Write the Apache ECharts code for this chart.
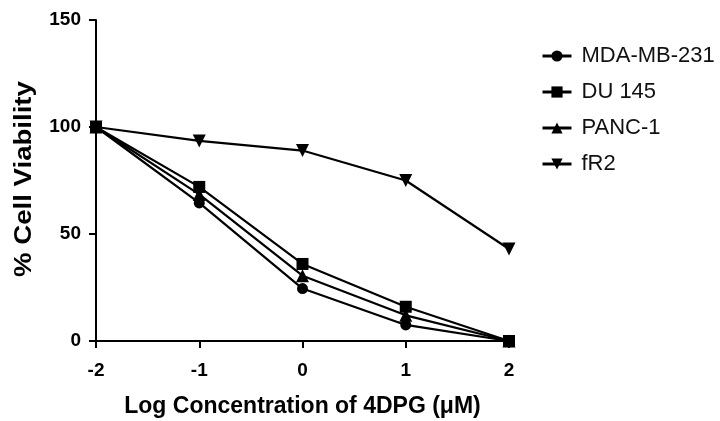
<!DOCTYPE html>
<html>
<head>
<meta charset="utf-8">
<script src="https://cdn.jsdelivr.net/npm/echarts@6/dist/echarts.min.js"></script>
<style>html,body{margin:0;padding:0;background:#fff}#c{width:720px;height:421px}</style>
</head>
<body>
<div id="c"></div>
<script>
var logConc = [-2, -1, 0, 1, 2];
var mda = [100, 64.5, 24.5, 7.5, 0];
var du145 = [100, 72, 36, 16, 0];
var panc1 = [100, 68.5, 30.5, 12, 0];
var fr2 = [100, 93.5, 89, 75, 43];
var seriesNames = ['MDA-MB-231', 'DU 145', 'PANC-1', 'fR2'];
var xTitle = 'Log Concentration of 4DPG (\u03bcM)';
var yTitle = '% Cell Viability';

function pairs(ys){ return logConc.map(function(x,i){ return [x, ys[i]]; }); }

var chart = echarts.init(document.getElementById('c'), null, {renderer:'canvas'});
var base = {
  type: 'line',
  clip: false,
  lineStyle: {color: '#000', width: 2.2},
  itemStyle: {color: '#000'},
  symbolSize: 10,
  animation: false
};
function mk(name, ys, sym, extra){
  return Object.assign({}, base, {name: name, data: pairs(ys), symbol: sym}, extra || {});
}
chart.setOption({
  animation: false,
  textStyle: {fontFamily: 'Liberation Sans, Arial, sans-serif'},
  grid: {left: 96, right: 211, top: 20, bottom: 80, containLabel: false, outerBoundsMode: 'none'},
  legend: {
    orient: 'vertical',
    left: 536,
    top: 40,
    itemWidth: 29,
    itemHeight: 14,
    itemGap: 14,
    data: seriesNames,
    lineStyle: {width: 3},
    textStyle: {fontSize: 22, color: '#111', fontFamily: 'Liberation Sans, Arial, sans-serif', lineHeight: 22, padding: [0,0,0,5]}
  },
  xAxis: {
    type: 'value', min: -2, max: 2, interval: 1,
    axisLine: {show: true, onZero: false, lineStyle: {color: '#000', width: 2}},
    axisTick: {show: true, length: 7, lineStyle: {color: '#000', width: 2}},
    axisLabel: {color: '#000', fontSize: 19, fontWeight: 'bold', margin: 20},
    splitLine: {show: false},
    name: xTitle, nameLocation: 'middle', nameGap: 54,
    nameTextStyle: {color: '#000', fontSize: 23, fontWeight: 'bold'}
  },
  yAxis: {
    type: 'value', min: 0, max: 150, interval: 50,
    axisLine: {show: true, onZero: false, lineStyle: {color: '#000', width: 2}},
    axisTick: {show: true, length: 7, lineStyle: {color: '#000', width: 2}},
    axisLabel: {color: '#000', fontSize: 19, fontWeight: 'bold', margin: 15},
    splitLine: {show: false}
  },
  graphic: [{
    type: 'text',
    x: 24, y: 179,
    rotation: Math.PI/2,
    scaleX: 1.15,
    style: {text: yTitle, font: 'bold 24px "Liberation Sans", Arial, sans-serif', fill: '#000', align: 'center', verticalAlign: 'middle'}
  }],
  series: [
    mk(seriesNames[0], mda, 'circle', {symbolSize: 11}),
    mk(seriesNames[1], du145, 'rect', {symbolSize: 12}),
    mk(seriesNames[2], panc1, 'triangle', {symbolSize: 13}),
    mk(seriesNames[3], fr2, 'triangle', {symbolSize: 13, symbolRotate: 180})
  ]
});
</script>
</body>
</html>
